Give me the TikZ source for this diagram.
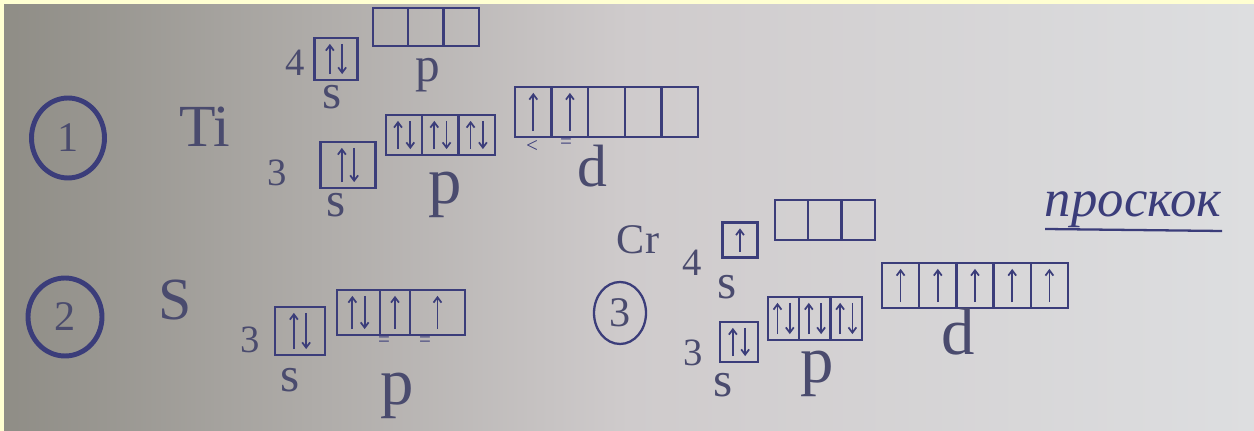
\documentclass[tikz,border=0pt]{standalone}
\usepackage{fontspec}
\setmainfont{Liberation Serif}
\usepackage{xcolor}
\usetikzlibrary{arrows.meta,shapes.geometric}
\definecolor{ink}{HTML}{3B3D7A}
\definecolor{pencil}{HTML}{4A4B6E}
\definecolor{paperdark}{HTML}{8F8D86}
\definecolor{papermid}{HTML}{CFCBCC}
\definecolor{paperlight}{HTML}{DDDEE0}
\definecolor{rim}{HTML}{FFFFD2}
\tikzset{
  cell/.style={draw=ink, line width=1.3pt, inner sep=0pt},
  spin/.style={draw=ink, line width=1pt, -{Straight Barb[length=3pt,width=4.5pt]}},
  ring/.style={draw=ink, ellipse, line width=2.8pt, inner sep=0pt, text=pencil, font=\fontsize{24}{24}\selectfont},
  elem/.style={text=pencil, inner sep=0pt, font=\fontsize{34}{34}\selectfont},
  num/.style={text=pencil, inner sep=0pt, font=\fontsize{22}{22}\selectfont},
  lbl/.style={text=pencil, inner sep=0pt, font=\fontsize{28}{28}\selectfont},
  biglbl/.style={text=pencil, inner sep=0pt, font=\fontsize{38}{38}\selectfont},
  tick/.style={text=ink, inner sep=0pt, font=\fontsize{12}{12}\selectfont}
}

\begin{document}
\begin{tikzpicture}[x=0.02cm,y=-0.02cm]
  % paper
  \fill[rim] (0,0) rectangle (1254,431);
  \shade[left color=paperdark, right color=paperlight, middle color=papermid] (4,5) rectangle (1254,431);
  \useasboundingbox (0,0) rectangle (1254,431);

  % task numbers
  \node[ring, minimum width=1.46cm, minimum height=1.6cm] (n1) at (68,138) {1};
  \node[ring, minimum width=1.48cm, minimum height=1.56cm] (n2) at (65,317) {2};
  \node[ring, line width=1.3pt, minimum width=1.04cm, minimum height=1.24cm] (n3) at (620,313) {3};

  % Ti
  \node[elem] (ti) at (205,127) {Ti};
  \node[cell, minimum width=0.86cm, minimum height=0.84cm] (ti4s) at (336,59) {};
  \foreach \i in {1,2,3}
    \node[cell, minimum width=0.707cm, minimum height=0.76cm] (ti4p\i) at ({373+35.3*(\i-0.5)},27) {};
  \node[cell, minimum width=1.1cm, minimum height=0.92cm] (ti3s) at (348,165) {};
  \foreach \i in {1,2,3}
    \node[cell, minimum width=0.727cm, minimum height=0.8cm] (ti3p\i) at ({386+36.3*(\i-0.5)},135) {};
  \foreach \i in {1,...,5}
    \node[cell, minimum width=0.732cm, minimum height=1cm] (ti3d\i) at ({515+36.6*(\i-0.5)},112) {};
  \node[num] (ti4n) at (295,63) {4};
  \node[lbl] (ti4sl) at (332,97) {s};
  \node[lbl] (ti4pl) at (428,75) {p};
  \node[num] (ti3n) at (277,173) {3};
  \node[lbl] (ti3sl) at (336,205) {s};
  \node[biglbl] (ti3pl) at (445,195) {p};
  \node[biglbl, font=\fontsize{34}{34}\selectfont] (ti3dl) at (592,166) {d};
  \node[tick] (tim1) at (532,146) {<};
  \node[tick] (tim2) at (566,144) {=};

  % S
  \node[elem] (sul) at (175,300) {S};
  \node[cell, minimum width=1cm, minimum height=0.96cm] (s3s) at (300,331) {};
  \node[cell, minimum width=0.86cm, minimum height=0.9cm] (s3p1) at (358.5,312.5) {};
  \node[cell, minimum width=0.6cm, minimum height=0.9cm] (s3p2) at (395,312.5) {};
  \node[cell, minimum width=1.1cm, minimum height=0.9cm] (s3p3) at (437.5,312.5) {};
  \node[num] (s3n) at (250,340) {3};
  \node[lbl] (s3sl) at (290,380) {s};
  \node[biglbl] (s3pl) at (397,396) {p};
  \node[tick] (sm1) at (384,342) {=};
  \node[tick] (sm2) at (425,342) {=};

  % Cr
  \node[elem, font=\fontsize{24}{24}\selectfont] (cr) at (638,240) {Cr};
  \node[cell, minimum width=0.7cm, minimum height=0.7cm] (cr4s) at (740,240) {};
  \foreach \i in {1,2,3}
    \node[cell, minimum width=0.667cm, minimum height=0.8cm] (cr4p\i) at ({775+33.3*(\i-0.5)},220) {};
  \node[cell, minimum width=0.76cm, minimum height=0.8cm] (cr3s) at (739,342) {};
  \foreach \i in {1,2,3}
    \node[cell, minimum width=0.627cm, minimum height=0.86cm] (cr3p\i) at ({768+31.3*(\i-0.5)},318.5) {};
  \foreach \i in {1,...,5}
    \node[cell, minimum width=0.744cm, minimum height=0.9cm] (cr3d\i) at ({882+37.2*(\i-0.5)},285.5) {};
  \node[num] (cr4n) at (692,263) {4};
  \node[lbl] (cr4sl) at (727,287) {s};
  \node[num] (cr3n) at (693,353) {3};
  \node[lbl] (cr3sl) at (723,385) {s};
  \node[biglbl] (cr3pl) at (817,374) {p};
  \node[biglbl] (cr3dl) at (958,332) {d};

  % electrons
  \foreach \c in {ti4s,ti3s,ti3p1,ti3p2,ti3p3,s3s,s3p1,cr3s,cr3p1,cr3p2,cr3p3} {
    \draw[spin] ([xshift=-3.5pt,yshift=4pt]\c.south) -- ([xshift=-3.5pt,yshift=-4pt]\c.north);
    \draw[spin] ([xshift=3.5pt,yshift=-4pt]\c.north) -- ([xshift=3.5pt,yshift=4pt]\c.south);
  }
  \foreach \c in {ti3d1,ti3d2,s3p2,s3p3,cr4s,cr3d1,cr3d2,cr3d3,cr3d4,cr3d5}
    \draw[spin] ([yshift=4pt]\c.south) -- ([yshift=-4pt]\c.north);

  \node[text=ink, inner sep=1pt, font=\itshape\fontsize{30}{30}\selectfont] (slip) at (1133,210) {проскок};
  \draw[ink, line width=1.3pt] (1045,229) -- (1222,231);
\end{tikzpicture}
\end{document}
